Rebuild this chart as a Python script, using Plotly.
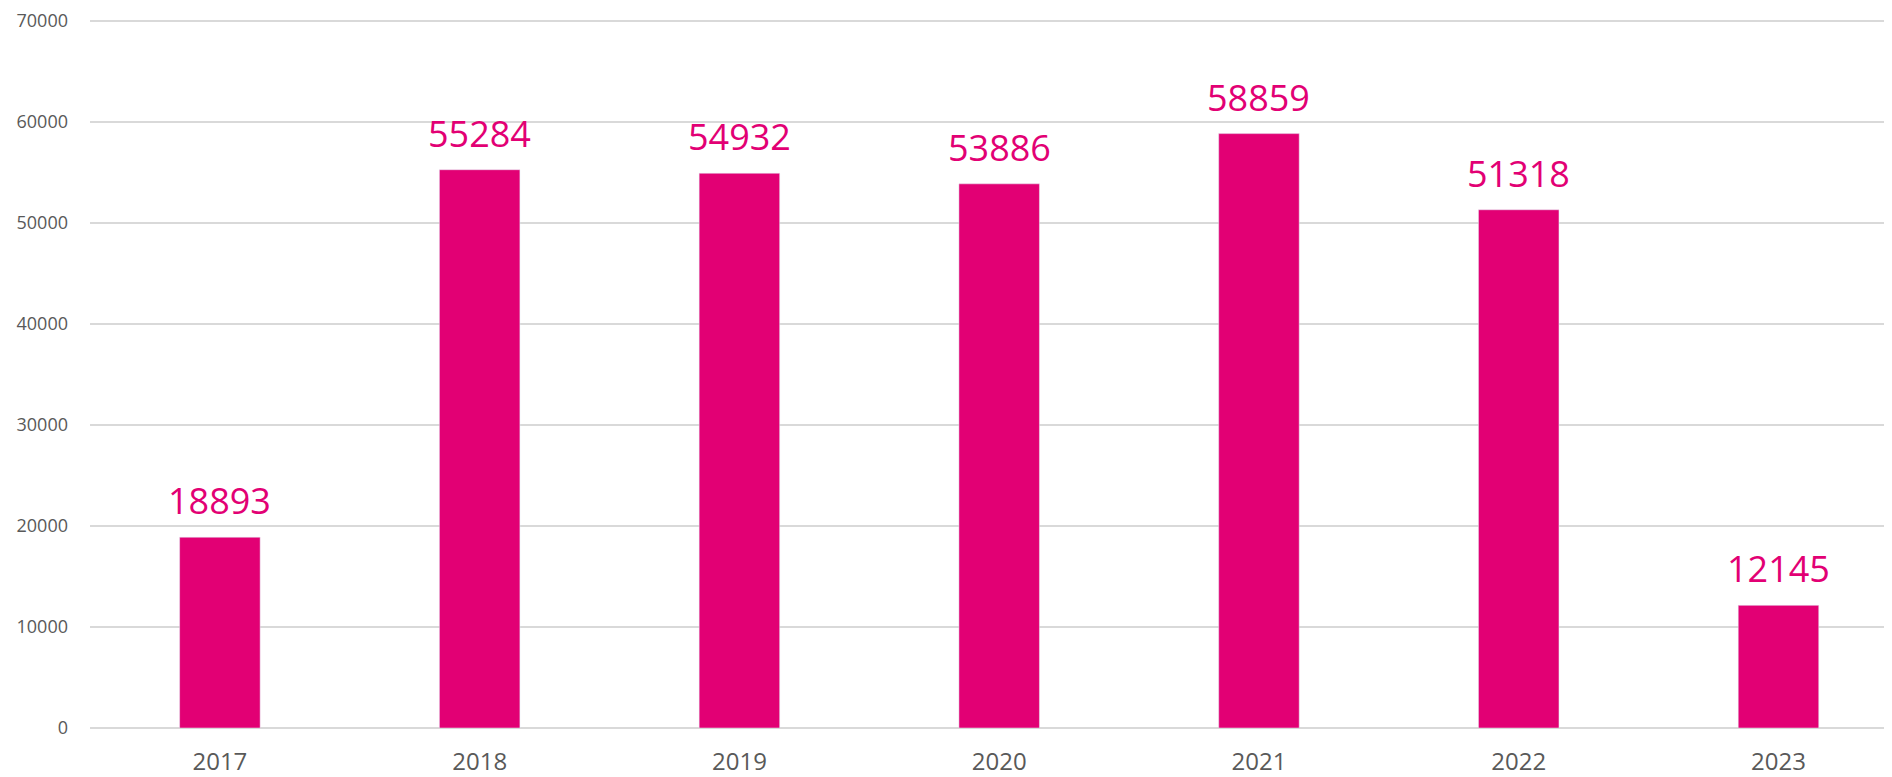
import plotly.graph_objects as go

years = ["2017", "2018", "2019", "2020", "2021", "2022", "2023"]
values = [18893, 55284, 54932, 53886, 58859, 51318, 12145]
y_ticks = [0, 10000, 20000, 30000, 40000, 50000, 60000, 70000]
y_tick_labels = ["0", "10000", "20000", "30000", "40000", "50000", "60000", "70000"]

PINK = "#E20074"
GRAY = "#595959"
GRID = "#D9D9D9"

fig = go.Figure()
fig.add_trace(go.Bar(
    x=years, y=values, marker_color=PINK, width=0.31,
    hoverinfo="x+y",
))
for i, v in enumerate(values):
    fig.add_annotation(x=i, y=v, xref="x", yref="y", text=str(v), showarrow=False,
                       yanchor="bottom", yshift=10,
                       font=dict(family="Open Sans", size=36, color=PINK))

# page body has an 8px margin; figure is offset by (8, 8)
fig.update_layout(
    width=1884, height=769,
    margin=dict(l=82, r=0, t=3, b=49),
    paper_bgcolor="white", plot_bgcolor="white",
    showlegend=False,
    xaxis=dict(type="category", range=[-0.5, 6.437], showgrid=False,
               showline=False, zeroline=False, ticks="", automargin=False,
               tickfont=dict(family="Open Sans", size=24, color=GRAY),
               ticklabelstandoff=17),
    yaxis=dict(range=[0, 71000], tickvals=y_ticks, ticktext=y_tick_labels,
               showgrid=True, automargin=False,
               gridcolor=GRID, gridwidth=1.5, zeroline=True,
               zerolinecolor=GRID, zerolinewidth=1.5, showline=False,
               tickfont=dict(family="Open Sans", size=18, color=GRAY),
               ticklabelstandoff=21),
)

fig.write_html("out.html")
